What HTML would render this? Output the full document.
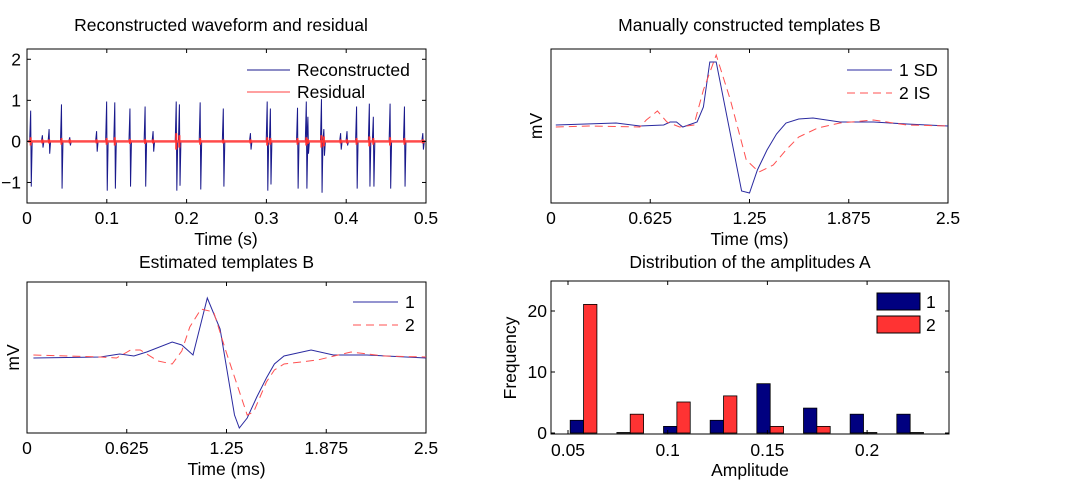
<!DOCTYPE html>
<html><head><meta charset="utf-8"><style>
body{margin:0;background:#fff;}
svg{display:block;font-family:"Liberation Sans",sans-serif;}
text{fill:#000;}
</style></head><body>
<svg id="fig" width="1066" height="498" viewBox="0 0 1066 498"></svg>
<script>
// ---- Panel 1 data: reconstructed spikes ----
const spikeTimes = [0.0046,0.0193,0.0277,0.0432,0.0536,0.0872,0.0998,0.110,0.129,0.148,0.158,0.187,0.191,0.217,0.246,0.280,0.301,0.305,0.339,0.350,0.352,0.369,0.372,0.393,0.401,0.413,0.429,0.434,0.455,0.473,0.496];
const spikeUp   = [0.75,0.15,0.3,0.9,0.1,0.25,0.97,0.95,0.8,0.85,0.25,0.97,0.9,0.95,0.8,0.2,0.97,0.8,0.82,0.97,0.6,1.03,0.3,0.2,0.25,0.85,0.92,0.6,0.92,0.85,0.2];
const spikeDown = [-1.1,-0.15,-0.3,-1.15,-0.1,-0.25,-1.2,-1.15,-1.1,-1.1,-0.25,-1.2,-1.08,-1.17,-1.1,-0.2,-1.2,-1.05,-1.15,-1.15,-0.3,-1.25,-0.35,-0.2,-0.1,-1.15,-1.1,-1.1,-1.15,-1.1,-0.2];
const residualBase = 0.03;
const residualBurst = [0.1,0.05,0.05,0.08,0.05,0.05,0.08,0.1,0.06,0.06,0.05,0.2,0.15,0.08,0.05,0.05,0.1,0.08,0.08,0.1,0.06,0.15,0.12,0.05,0.05,0.08,0.12,0.08,0.1,0.08,0.05];
const p1XTicks = [0,0.1,0.2,0.3,0.4,0.5];
const p1YTicks = [-1,0,1,2];
// ---- Panel 2 data ----
const sdT = [0.03,0.41,0.56,0.71,0.75,0.79,0.83,0.92,0.96,1.0,1.04,1.20,1.25,1.30,1.36,1.42,1.48,1.56,1.65,1.82,2.03,2.24,2.5];
const sdV = [0,2,-1,0,3,3,-2,3,18,63,63,-66,-68,-45,-25,-9,2,6,7,3,3,1,-1];
const isT = [0.03,0.24,0.56,0.60,0.67,0.73,0.81,0.90,0.96,1.04,1.13,1.23,1.31,1.40,1.48,1.56,1.68,1.82,2.03,2.24,2.5];
const isV = [-2,-1,-2,5,14,3,-2,0,35,70,25,-35,-47,-40,-25,-12,-3,2,5,0,-1];
const msTicks = [0,0.625,1.25,1.875,2.5];
const msTickLabels = ["0","0.625","1.25","1.875","2.5"];
// ---- Panel 3 data ----
const e1T = [0.04,0.46,0.58,0.67,0.75,0.91,0.97,1.04,1.13,1.21,1.30,1.33,1.38,1.44,1.50,1.55,1.61,1.78,1.92,2.13,2.5];
const e1V = [-1,0,3,1,5,15,12,2,59,28,-58,-71,-61,-40,-21,-7,1,7,2,2,-1];
const e2T = [0.04,0.46,0.56,0.65,0.71,0.82,0.91,0.97,1.02,1.09,1.17,1.25,1.38,1.42,1.50,1.55,1.61,1.82,2.03,2.24,2.5];
const e2V = [2,0,-1,7,7,-4,-7,6,30,48,45,4,-58,-55,-25,-13,-7,-3,5,1,0];
// ---- Panel 4 data ----
const binCenters = [0.0578,0.0812,0.1046,0.1280,0.1514,0.1748,0.1982,0.2216];
const freq1 = [2,0,1,2,8,4,3,3];
const freq2 = [21,3,5,6,1,1,0,0];
const ampTicks = [0.05,0.1,0.15,0.2];
const ampTickLabels = ["0.05","0.1","0.15","0.2"];
const freqTicks = [0,10,20];

const FS=17.5;
const NS="http://www.w3.org/2000/svg";
const fig=document.getElementById('fig');
function mk(tag,attrs,parent){const e=document.createElementNS(NS,tag);for(const k in attrs)e.setAttribute(k,attrs[k]);(parent||fig).appendChild(e);return e;}
function lin(d0,d1,r0,r1){return v=>r0+(v-d0)/(d1-d0)*(r1-r0);}
function txt(s,x,y,anchor,size,parent){const t=mk('text',{x:x,y:y,'text-anchor':anchor,'font-size':size},parent);t.textContent=s;return t;}

function axesBox(L,T,R,B,name){
  const g=mk('g',{});
  
  
  const r=mk('rect',{x:L,y:T,width:R-L,height:B-T,fill:'none',stroke:'#000','stroke-width':1},g);
  
  
  return g;
}
function xTicks(g,ticks,labels,sx,T,B,ly){
  ticks.forEach((v,i)=>{
    const x=sx(v);
    mk('line',{x1:x,y1:B,x2:x,y2:B-4,stroke:'#000'},g);
    mk('line',{x1:x,y1:T,x2:x,y2:T+4,stroke:'#000'},g);
    const t=txt(labels[i],x,ly,'middle',FS,g);
    
    
  });
}
function yTicks(g,ticks,labels,sy,L,R,lx){
  ticks.forEach((v,i)=>{
    const y=sy(v);
    mk('line',{x1:L,y1:y,x2:L+4,y2:y,stroke:'#000'},g);
    mk('line',{x1:R,y1:y,x2:R-4,y2:y,stroke:'#000'},g);
    const t=txt(labels[i],lx,y+6,'end',FS,g);
    
    
  });
}
function pathD(xs,ys,sx,sy){return xs.map((t,i)=>(i?'L':'M')+sx(t).toFixed(1)+','+sy(ys[i]).toFixed(1)).join('');}

// ===== Panel 1 =====
(function(){
  const L=27,R=426,T=49,B=203;
  const sx=lin(0,0.5,L,R), sy=lin(-1.5,2.25,B,T);
  const g=axesBox(L,T,R,B,'waveform-axes');
  const ti=txt('Reconstructed waveform and residual',221,31,'middle',FS);
  
  
  let d='M'+sx(0)+','+sy(0);
  spikeTimes.forEach((t,i)=>{const x=sx(t);d+='L'+(x-1)+','+sy(0)+'L'+x+','+sy(spikeUp[i])+'L'+(x+0.6)+','+sy(spikeDown[i])+'L'+(x+1.5)+','+sy(0);});
  d+='L'+sx(0.5)+','+sy(0);
  const rec=mk('path',{d:d,fill:'none',stroke:'#1a1a8c','stroke-width':1},g);
  
  
  const rg=mk('g',{},g);
  
  
  mk('rect',{x:L+1,y:sy(residualBase),width:R-L-2,height:sy(-residualBase)-sy(residualBase),fill:'#ff4a4a'},rg);
  spikeTimes.forEach((t,i)=>{const x=sx(t);const a=residualBurst[i];
    mk('rect',{x:x-1,y:sy(a),width:2,height:sy(-a)-sy(a),fill:'#ff3030'},rg);});
  xTicks(g,p1XTicks,p1XTicks.map(String),sx,T,B,224);
  yTicks(g,p1YTicks,['\u22121','0','1','2'],sy,L,R,21);
  const xl=txt('Time (s)',226,245,'middle',FS);
  
  
  const lg=mk('g',{},g);
  
  
  mk('line',{x1:247,y1:70,x2:290,y2:70,stroke:'#1a1a8c'},lg);
  txt('Reconstructed',297,76,'start',FS,lg);
  mk('line',{x1:247,y1:92,x2:290,y2:92,stroke:'#ff4040'},lg);
  txt('Residual',297,98,'start',FS,lg);
})();

function templatePanel(L,T,R,B,title,titleY,aT,aV,bT,bV,yDom,leg,legX,legY,name,ylabX){
  const sx=lin(0,2.5,L,R), sy=lin(yDom[0],yDom[1],B,T);
  const g=axesBox(L,T,R,B,name);
  const ti=txt(title,(L+R)/2,titleY,'middle',FS);
  
  
  const p1=mk('path',{d:pathD(aT,aV,sx,sy),fill:'none',stroke:'#2a2aa0','stroke-width':1},g);
  
  
  const p2=mk('path',{d:pathD(bT,bV,sx,sy),fill:'none',stroke:'#ff5050','stroke-width':1,'stroke-dasharray':'8,5'},g);
  
  
  xTicks(g,msTicks,msTickLabels,sx,T,B,B+21);
  const xl=txt('Time (ms)',(L+R)/2,B+42,'middle',FS);
  
  
  const yl=mk('text',{x:0,y:0,'text-anchor':'middle','font-size':FS,transform:'translate('+ylabX+','+((T+B)/2)+') rotate(-90)'});
  yl.textContent='mV';
  
  
  const lg=mk('g',{},g);
  
  
  mk('line',{x1:legX,y1:legY,x2:legX+45,y2:legY,stroke:'#2a2aa0'},lg);
  txt(leg[0],legX+52,legY+6,'start',FS,lg);
  mk('line',{x1:legX,y1:legY+23,x2:legX+45,y2:legY+23,stroke:'#ff5050','stroke-dasharray':'8,5'},lg);
  txt(leg[1],legX+52,legY+29,'start',FS,lg);
}
templatePanel(551,49,948,203,'Manually constructed templates B',31,sdT,sdV,isT,isV,[-78,76],['1 SD','2 IS'],847,70,'manual-templates-axes',542);
templatePanel(27,282,426,433,'Estimated templates B',268,e1T,e1V,e2T,e2V,[-76,75],['1','2'],353,302,'estimated-templates-axes',19);

// ===== Panel 4 =====
(function(){
  const L=551,R=949,T=281,B=434;
  const sx=lin(0.05,0.1,568,667.7), sy=lin(0,20,433,311);
  const g=axesBox(L,T,R,B,'amplitude-histogram-axes');
  const ti=txt('Distribution of the amplitudes A',750,268,'middle',FS);
  
  
  const bw=sx(0.0578+0.0067)-sx(0.0578);
  binCenters.forEach((c,i)=>{
    const x=sx(c);
    const b1=mk('rect',{x:x-bw,y:sy(freq1[i])-0.5,width:bw,height:sy(0)-sy(freq1[i])+0.5,fill:'#000080',stroke:'#000','stroke-width':0.8},g);
    
    
    const b2=mk('rect',{x:x,y:sy(freq2[i])-0.5,width:bw,height:sy(0)-sy(freq2[i])+0.5,fill:'#ff3333',stroke:'#000','stroke-width':0.8},g);
    
    
  });
  xTicks(g,ampTicks,ampTickLabels,sx,T,B,B+22);
  yTicks(g,freqTicks,freqTicks.map(String),sy,L,R,547);
  const xl=txt('Amplitude',750,476,'middle',FS);
  
  
  const yl=mk('text',{x:0,y:0,'text-anchor':'middle','font-size':FS,transform:'translate(516,358) rotate(-90)'});
  yl.textContent='Frequency';
  
  
  const lg=mk('g',{},g);
  
  
  mk('rect',{x:877,y:293,width:43,height:17,fill:'#000080',stroke:'#000'},lg);
  txt('1',926,308,'start',FS,lg);
  mk('rect',{x:877,y:316,width:43,height:17,fill:'#ff3333',stroke:'#000'},lg);
  txt('2',926,331,'start',FS,lg);
})();
</script>
</body></html>
